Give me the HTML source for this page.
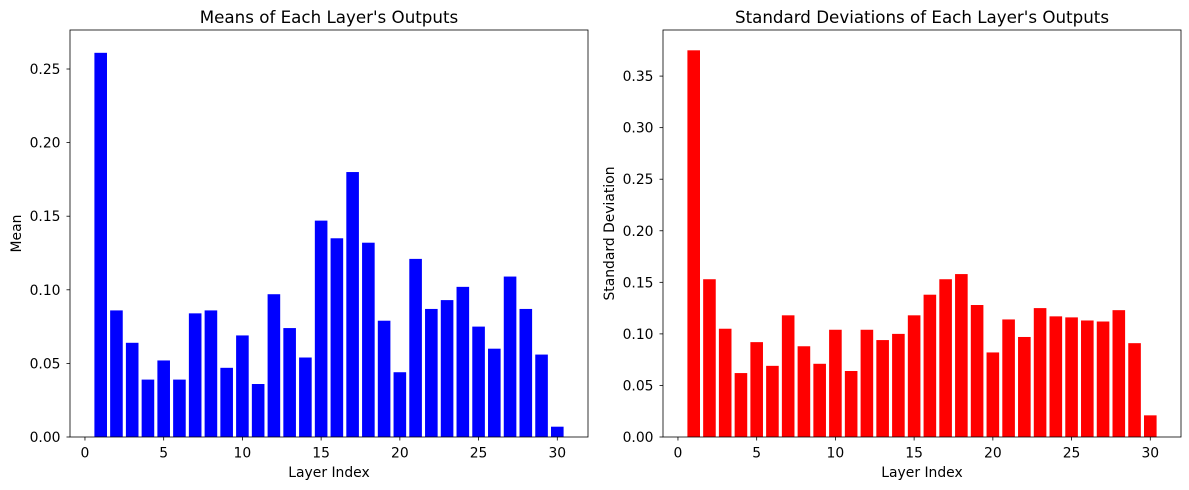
<!DOCTYPE html>
<html><head><meta charset="utf-8">
<style>
body{margin:0;background:#fff;}
svg{display:block;font-family:"DejaVu Sans","Liberation Sans",sans-serif;}
</style></head>
<body>
<svg id="c" width="1189" height="490" viewBox="0 0 1189 490" xmlns="http://www.w3.org/2000/svg"></svg>
<script>
const categories = Array.from({length:30},(_,i)=>i+1);
const meanValues = [0.261,0.086,0.064,0.039,0.052,0.039,0.084,0.086,0.047,0.069,0.036,0.097,0.074,0.054,0.147,0.135,0.180,0.132,0.079,0.044,0.121,0.087,0.093,0.102,0.075,0.060,0.109,0.087,0.056,0.007];
const stdValues = [0.375,0.153,0.105,0.062,0.092,0.069,0.118,0.088,0.071,0.104,0.064,0.104,0.094,0.100,0.118,0.138,0.153,0.158,0.128,0.082,0.114,0.097,0.125,0.117,0.116,0.113,0.112,0.123,0.091,0.021];
const xTicks = [0,5,10,15,20,25,30];
const meanYTicks = [0,0.05,0.10,0.15,0.20,0.25];
const stdYTicks = [0,0.05,0.10,0.15,0.20,0.25,0.30,0.35];

const svg = document.getElementById('c');
const NS = 'http://www.w3.org/2000/svg';
function mk(tag, attrs, parent){
  const e = document.createElementNS(NS, tag);
  for (const k in attrs) e.setAttribute(k, attrs[k]);
  (parent||svg).appendChild(e);
  return e;
}
function panel(opts){
  const {left,right,top,bottom,ymax,values,yTicks,color,title,ylabel,name} = opts;
  const g = mk('g',{});
  
  
  const xmin = -0.95, xmax = 31.95;
  const xs = v => left + (v - xmin)/(xmax - xmin)*(right-left);
  const ys = v => bottom - v/ymax*(bottom-top);
  values.forEach((v,i)=>{
    const c = categories[i];
    const r = mk('rect',{x:xs(c-0.4), y:ys(v), width:xs(c+0.4)-xs(c-0.4), height:ys(0)-ys(v), fill:color}, g);
    
    
  });
  const frame = mk('rect',{x:left,y:top,width:right-left,height:bottom-top,fill:'none',stroke:'#000','stroke-width':0.8}, g);
  
  
  xTicks.forEach(t=>{
    const x = xs(t);
    mk('line',{x1:x,x2:x,y1:bottom,y2:bottom+3.5,stroke:'#000','stroke-width':0.8}, g);
    const tx = mk('text',{x:x,y:bottom+20.5,'text-anchor':'middle','font-size':13.9,fill:'#000'}, g);
    tx.textContent = t;
    
    
  });
  yTicks.forEach(t=>{
    const y = ys(t);
    mk('line',{x1:left-3.5,x2:left,y1:y,y2:y,stroke:'#000','stroke-width':0.8}, g);
    const ty = mk('text',{x:left-9.5,y:y+5,'text-anchor':'end','font-size':13.9,fill:'#000'}, g);
    ty.textContent = t.toFixed(2);
    
    
  });
  const tt = mk('text',{x:(left+right)/2,y:top-7,'text-anchor':'middle','font-size':16.7,fill:'#000'}, g);
  tt.textContent = title;
  
  
  const xl = mk('text',{x:(left+right)/2,y:bottom+40,'text-anchor':'middle','font-size':13.9,fill:'#000'}, g);
  xl.textContent = 'Layer Index';
  
  
  const cy = (top+bottom)/2;
  const yl = mk('text',{x:opts.ylabelX,y:cy,'text-anchor':'middle','font-size':13.9,fill:'#000',transform:`rotate(-90 ${opts.ylabelX} ${cy})`}, g);
  yl.textContent = ylabel;
  
  
}
panel({left:70,right:588,top:30,bottom:437,ymax:0.2765,values:meanValues,yTicks:meanYTicks,color:'#0000ff',title:"Means of Each Layer's Outputs",ylabel:'Mean',name:'mean',ylabelX:21});
panel({left:663,right:1181,top:30,bottom:437,ymax:0.3947,values:stdValues,yTicks:stdYTicks,color:'#ff0000',title:"Standard Deviations of Each Layer's Outputs",ylabel:'Standard Deviation',name:'std',ylabelX:614});
</script>
</body></html>
